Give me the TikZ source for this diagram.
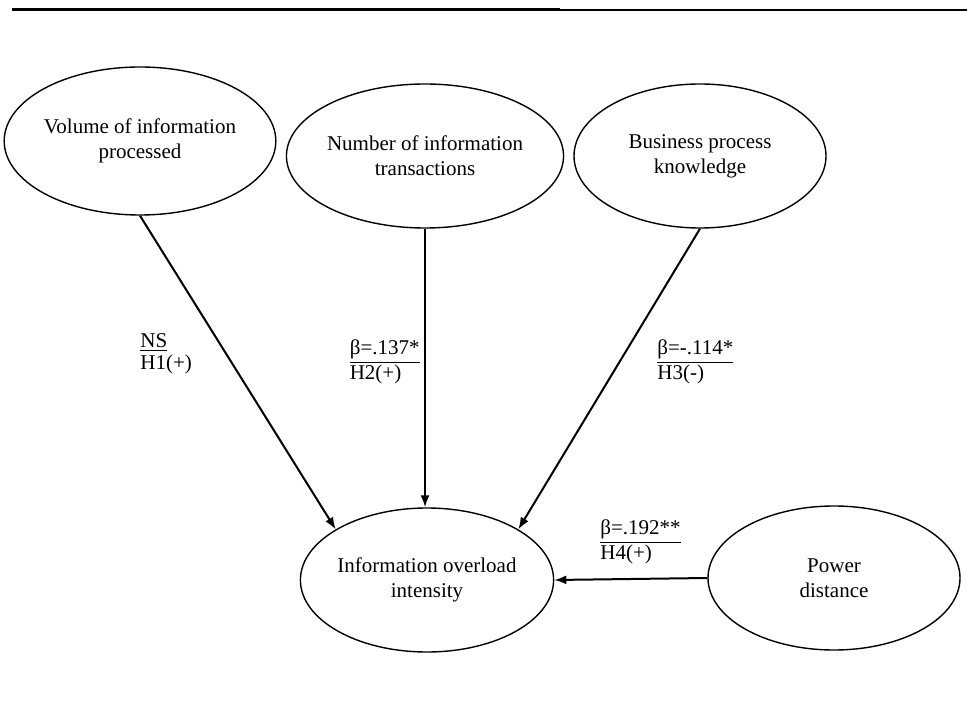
\documentclass[tikz,border=0pt]{standalone}
\usepackage{fontspec}
\setmainfont{Liberation Serif}
\usetikzlibrary{shapes.geometric,arrows.meta}
\tikzset{
	construct/.style={ellipse, draw, line width=0.7pt, inner sep=0pt,
		minimum width=126pt, minimum height=72pt, align=center,
		font=\fontsize{10.5}{12.5}\selectfont},
	path/.style={-{Latex[length=6pt,width=4.5pt]}, line width=1pt},
	coef/.style={anchor=west, align=left, inner sep=0pt,
		font=\fontsize{10.5}{11}\selectfont}
}

\begin{document}
\begin{tikzpicture}[x=0.5pt,y=-0.5pt]
			%%%%% START %%%%%
			\useasboundingbox (0,0) rectangle (967,710);
			
			\draw[line width=1.5pt] (12,10) -- (560,10);
			\draw[line width=0.8pt] (560,10) -- (967,10);
			
			\node[construct, minimum height=74pt] (volume) at (140,141) {Volume of information\\processed};
			\node[construct] (number) at (425,156) {Number of information\\transactions};
			\node[construct] (business) at (700,156) {Business process\\knowledge};
			\node[construct] (overload) at (427,580) {Information overload\\intensity};
			\node[construct] (power) at (834,578) {Power\\distance};
			
			\draw[path] (volume.south) -- (overload.151);
			\draw[path] (number.south) -- (number.south |- overload.north);
			\draw[path] (business.south) -- (overload.29);
			\draw[path] (power.west) -- (overload.east);
			
			\node[coef] (h1) at (140,354) {\underline{NS}\\H1(+)};
			\node[coef, anchor=east] (h2) at (420,362) {\underline{β=.137*}\\H2(+)};
			\node[coef] (h3) at (657,362) {\underline{β=-.114*}\\H3(-)};
			\node[coef] (h4) at (600,542) {\underline{β=.192**}\\H4(+)};
			
			%%%%% END %%%%%
		\end{tikzpicture}
\end{document}
